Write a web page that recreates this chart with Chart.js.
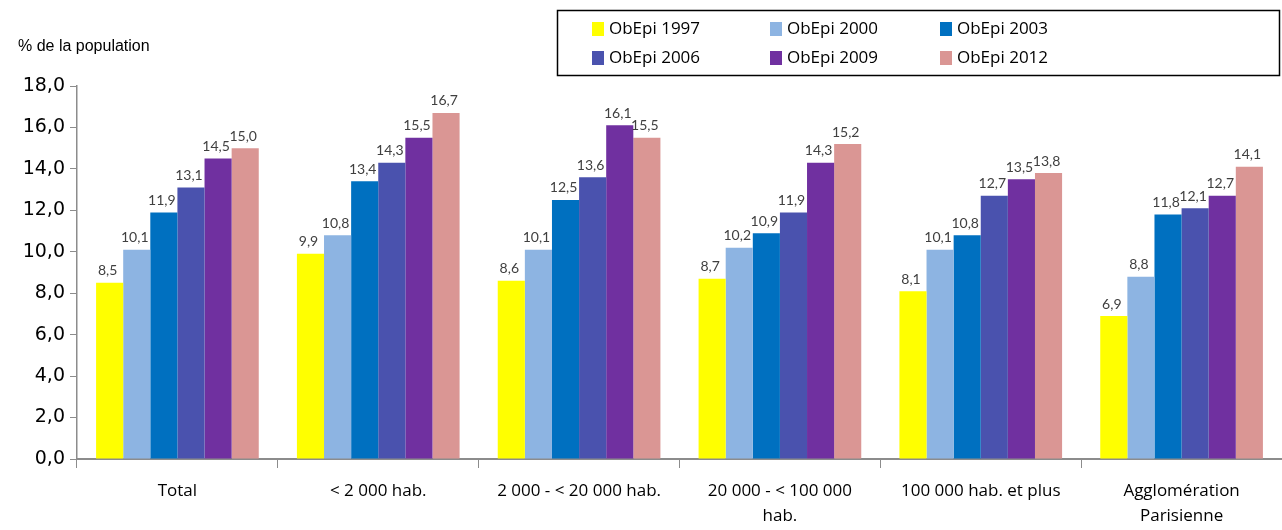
<!DOCTYPE html>
<html>
<head>
<meta charset="utf-8">
<script src="https://cdn.jsdelivr.net/npm/chart.js@4"></script>
<style>
  html, body { margin: 0; padding: 0; background: #fff; }
  #wrap { width: 1282px; height: 530px; }
</style>
</head>
<body>
<div id="wrap"><canvas id="obepiChart"></canvas></div>
<script>
const categories = ['Total', '< 2 000 hab.', '2 000 - < 20 000 hab.', ['20 000 - < 100 000', 'hab.'], '100 000 hab. et plus', ['Agglomération', 'Parisienne']];
const seriesNames = ['ObEpi 1997', 'ObEpi 2000', 'ObEpi 2003', 'ObEpi 2006', 'ObEpi 2009', 'ObEpi 2012'];
const obepi1997 = [8.5, 9.9, 8.6, 8.7, 8.1, 6.9];
const obepi2000 = [10.1, 10.8, 10.1, 10.2, 10.1, 8.8];
const obepi2003 = [11.9, 13.4, 12.5, 10.9, 10.8, 11.8];
const obepi2006 = [13.1, 14.3, 13.6, 11.9, 12.7, 12.1];
const obepi2009 = [14.5, 15.5, 16.1, 14.3, 13.5, 12.7];
const obepi2012 = [15.0, 16.7, 15.5, 15.2, 13.8, 14.1];
const colors = ['#FFFF00', '#8DB4E2', '#0070C0', '#4A52AE', '#7030A0', '#DA9694'];

const fmt = v => v.toFixed(1).replace('.', ',');

// value labels above each bar
const valueLabels = {
    id: 'valueLabels',
    afterDatasetsDraw(chart) {
        const ctx = chart.ctx;
        ctx.save();
        ctx.font = '14px Lato';
        ctx.fillStyle = '#404040';
        ctx.textAlign = 'center';
        ctx.textBaseline = 'bottom';
        chart.data.datasets.forEach((ds, i) => {
            chart.getDatasetMeta(i).data.forEach((bar, j) => {
                ctx.fillText(fmt(ds.data[j]), bar.x - 2, bar.y - 5);
            });
        });
        ctx.restore();
    }
};

// y title + boxed legend
const decorations = {
    id: 'decorations',
    afterDraw(chart) {
        const ctx = chart.ctx;
        ctx.save();
        ctx.fillStyle = '#000';
        ctx.font = '16px "Liberation Sans"';
        ctx.textBaseline = 'middle';
        ctx.textAlign = 'left';
        ctx.fillText('% de la population', 18, 47);

        ctx.strokeStyle = '#000';
        ctx.lineWidth = 1.5;
        ctx.strokeRect(557.5, 10.5, 722, 65);
        ctx.font = '17px "Open Sans"';
        const colX = [592, 770, 940];
        const rowY = [29, 58];
        chart.data.datasets.forEach((ds, i) => {
            const x = colX[i % 3], y = rowY[Math.floor(i / 3)];
            ctx.fillStyle = ds.backgroundColor;
            ctx.fillRect(x, y - 7, 12, 14);
            ctx.fillStyle = '#000';
            ctx.fillText(ds.label, x + 17, y);
        });
        ctx.restore();
    }
};

const allSeries = [obepi1997, obepi2000, obepi2003, obepi2006, obepi2009, obepi2012];

new Chart(document.getElementById('obepiChart'), {
    type: 'bar',
    data: {
        labels: categories,
        datasets: allSeries.map((d, i) => ({
            label: seriesNames[i],
            data: d,
            backgroundColor: colors[i],
            borderWidth: 0
        }))
    },
    options: {
        responsive: true,
        maintainAspectRatio: false,
        animation: false,
        devicePixelRatio: 1,
        categoryPercentage: 0.81,
        barPercentage: 1,
        layout: { padding: { top: 86, right: 0, left: 0, bottom: 0 } },
        plugins: {
            legend: { display: false },
            tooltip: { enabled: false }
        },
        scales: {
            x: {
                afterFit(scale) { scale.height = 71; },
                grid: { offset: true, drawOnChartArea: false, tickLength: 9, color: '#8c8c8c' },
                border: { color: '#8c8c8c', width: 2 },
                ticks: { color: '#000', font: { family: 'Open Sans', size: 17, lineHeight: 1.45 }, maxRotation: 0, autoSkip: false, padding: 11 }
            },
            y: {
                min: 0,
                max: 18,
                afterFit(scale) { scale.width = 77; },
                grid: { drawOnChartArea: false, tickLength: 7, color: '#8c8c8c' },
                border: { color: '#8c8c8c', width: 1.5 },
                ticks: { stepSize: 2, color: '#000', font: { family: 'DejaVu Sans', size: 19 }, padding: 5, callback: v => fmt(v) }
            }
        }
    },
    plugins: [valueLabels, decorations]
});
</script>
</body>
</html>
